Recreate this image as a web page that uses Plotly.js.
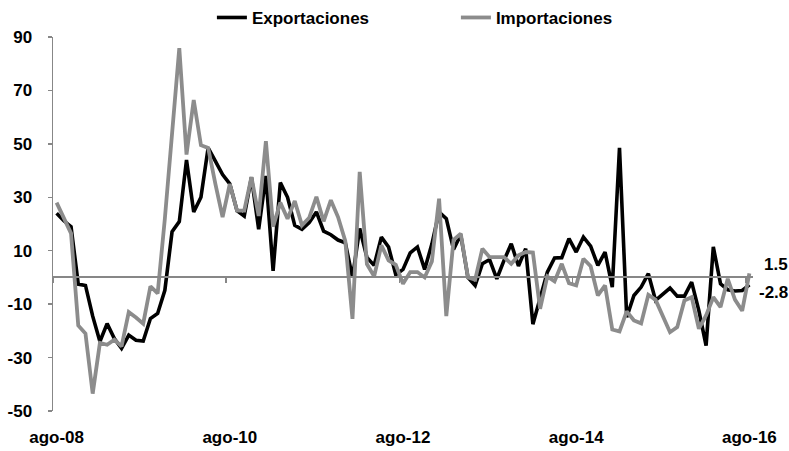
<!DOCTYPE html>
<html>
<head>
<meta charset="utf-8">
<script src="https://cdn.plot.ly/plotly-3.0.1.min.js"></script>
<style>
  html, body { margin: 0; padding: 0; background: #fff; }
  #chart { width: 789px; height: 451px; }
</style>
</head>
<body>
<div id="chart"></div>
<script>
// Monthly series, ago-08 .. ago-16 (annual % change)
const monthNames = ['ene','feb','mar','abr','may','jun','jul','ago','sep','oct','nov','dic'];
const startYear = 2008, startMonth = 7, nMonths = 97;

const exportaciones = [
  24, 21.2, 19, -2.5, -3, -14.5, -24, -17.3, -22.9, -26.6,
  -21.6, -23.5, -23.8, -15.4, -13.5, -4.8, 17.1, 20.9, 44, 24.5,
  30, 48.5, 43.5, 38.5, 35, 25, 23, 37.5, 18, 38,
  2.5, 35.5, 30, 19.5, 18, 20.5, 24.5, 17.3, 16, 14,
  13, 0, 18.3, 7.5, 4.5, 15.1, 11.4, 1, 3, 9.2,
  11.4, 3, 12.5, 24.5, 22, 10.5, 16, 0, -3, 5.1,
  6.7, -0.5, 6.4, 12.6, 4.3, 10.75, -17.5, -8, 2, 7.3,
  7.4, 14.5, 9.5, 15.1, 11.7, 4.5, 9.5, -3.6, 48.5, -14.9,
  -6.75, -3.6, 1.4, -8.6, -6.1, -4, -7, -7, -1.75, -12.4,
  -25.5, 11.4, -2.4, -4.6, -5.1, -4.9, -2.8
];

const importaciones = [
  28, 22.5, 16.5, -18, -21, -43.5, -24.5, -25.2, -23.3, -25.8,
  -13, -15, -17.3, -3.3, -6, 22, 53, 85.8, 46, 66.4,
  49.5, 48.5, 35, 22.6, 35, 25, 25, 37.6, 23, 51,
  19, 28, 22, 28.6, 19.5, 22.3, 30.2, 21, 28.9, 22.6,
  13.7, -15.5, 39.5, 5, 0.4, 12, 6.4, 4.7, -2.4, 2,
  2, 0, 6, 29.5, -14.5, 14, 16.4, 0, -0.8, 10.75,
  7.6, 7.6, 7.6, 5.1, 8.25, 9.5, 9.3, -11.75, 0.4, -1.5,
  5.1, -2.2, -3, 7, 4.2, -6.75, -3, -19.5, -20.2, -12.7,
  -16.1, -17.2, -6.5, -8.4, -14.2, -20.5, -18.6, -8.6, -7.4, -19.2,
  -14.2, -7.4, -11.1, -0.5, -8.3, -12.5, 1.5
];

const xTickLabels = ['ago-08', 'ago-10', 'ago-12', 'ago-14', 'ago-16'];
const yTickValues = [-50, -30, -10, 10, 30, 50, 70, 90];

const months = [];
for (let k = 0; k < nMonths; k++) {
  const m = (startMonth + k) % 12;
  const y = startYear + Math.floor((startMonth + k) / 12);
  months.push(monthNames[m] + '-' + String(y % 100).padStart(2, '0'));
}

const FONT = 'Liberation Sans, Arial, sans-serif';
const AXIS_GRAY = '#878787';
const SERIES_GRAY = '#8c8c8c';
const xRange = [-0.5, nMonths - 0.5];

const traces = [
  {
    x: months, y: exportaciones, name: 'Exportaciones', type: 'scatter', mode: 'lines',
    line: { color: '#000000', width: 3.6 }, xaxis: 'x', yaxis: 'y', hoverinfo: 'skip'
  },
  {
    x: months, y: importaciones, name: 'Importaciones', type: 'scatter', mode: 'lines',
    line: { color: SERIES_GRAY, width: 3.8 }, xaxis: 'x2', yaxis: 'y', hoverinfo: 'skip'
  }
];

const lastExp = exportaciones[exportaciones.length - 1];
const lastImp = importaciones[importaciones.length - 1];
const lastMonth = months[months.length - 1];

const layout = {
  width: 789, height: 451,
  margin: { l: 53, r: 36, t: 37, b: 40, autoexpand: false },
  paper_bgcolor: '#ffffff', plot_bgcolor: '#ffffff',
  font: { family: FONT, size: 17, color: '#000000', weight: 'bold' },
  showlegend: true,
  legend: {
    orientation: 'h', x: 0.227, xanchor: 'left', y: 1.051, yanchor: 'middle',
    font: { family: FONT, size: 17, color: '#000000', weight: 'bold' },
    entrywidth: 199, entrywidthmode: 'pixels', bgcolor: 'rgba(0,0,0,0)'
  },
  xaxis: {
    type: 'category', range: xRange, categoryorder: 'array', categoryarray: months,
    tickmode: 'array', tickvals: xTickLabels, ticktext: xTickLabels,
    showline: false, ticks: '', showgrid: false, zeroline: false,
    ticklabelstandoff: 14,
    tickfont: { family: FONT, size: 17, color: '#000000', weight: 'bold' },
    fixedrange: true
  },
  xaxis2: {
    type: 'category', range: xRange, categoryorder: 'array', categoryarray: months,
    overlaying: 'x', anchor: 'free', position: 50 / 140,
    showline: true, linecolor: AXIS_GRAY, linewidth: 2,
    tickmode: 'linear', tick0: 0, dtick: 24, tickson: 'boundaries',
    ticks: 'outside', ticklen: 5, tickwidth: 1.5, tickcolor: AXIS_GRAY,
    showticklabels: false, showgrid: false, zeroline: false, fixedrange: true
  },
  yaxis: {
    range: [-50, 90], tickmode: 'array', tickvals: yTickValues,
    ticktext: yTickValues.map(String),
    showline: true, linecolor: AXIS_GRAY, linewidth: 1.5,
    ticks: 'outside', ticklen: 4, tickwidth: 1.5, tickcolor: AXIS_GRAY,
    showgrid: false, zeroline: false, ticklabelstandoff: 12,
    tickfont: { family: FONT, size: 17, color: '#000000', weight: 'bold' },
    fixedrange: true
  },
  annotations: [
    {
      x: lastMonth, y: lastImp, xref: 'x', yref: 'y', text: String(lastImp),
      showarrow: false, xanchor: 'right', yanchor: 'middle', xshift: 41, yshift: 9,
      font: { family: FONT, size: 17, color: '#000000', weight: 'bold' }
    },
    {
      x: lastMonth, y: lastExp, xref: 'x', yref: 'y', text: String(lastExp),
      showarrow: false, xanchor: 'right', yanchor: 'middle', xshift: 41, yshift: -8,
      font: { family: FONT, size: 17, color: '#000000', weight: 'bold' }
    }
  ]
};

Plotly.newPlot('chart', traces, layout, { staticPlot: true, displayModeBar: false });
</script>
</body>
</html>
